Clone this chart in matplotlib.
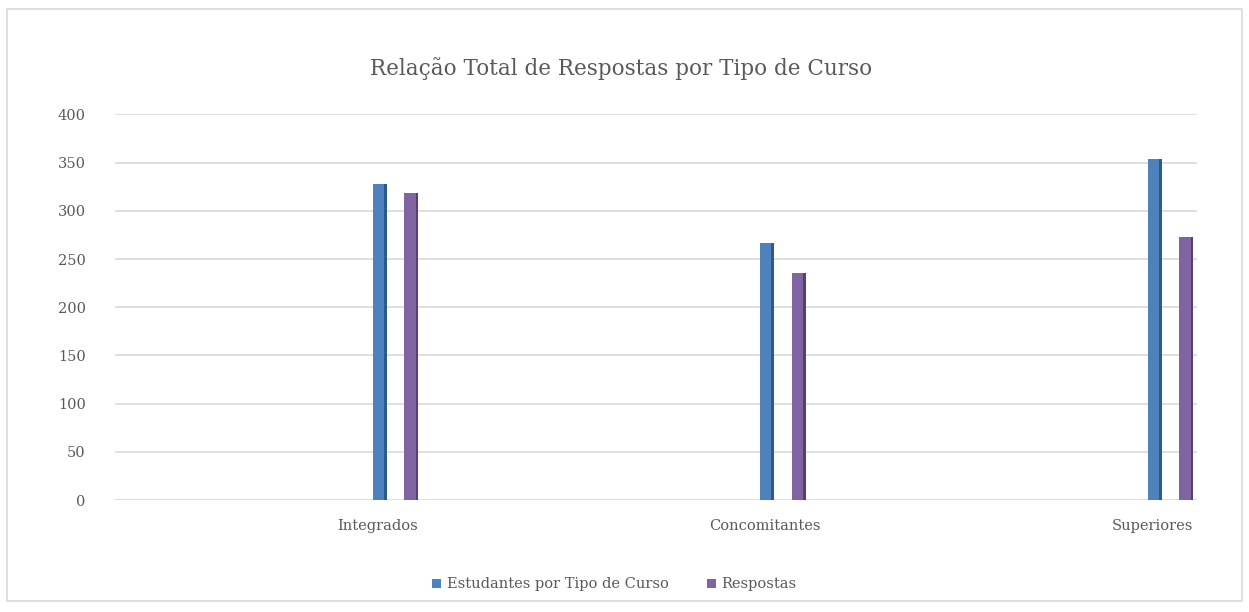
import numpy as np
import matplotlib
matplotlib.use("Agg")
import matplotlib.pyplot as plt
from matplotlib.patches import Rectangle

# dados
cursos = ["Integrados", "Concomitantes", "Superiores"]
estudantes = [328, 267, 354]
respostas = [318, 235, 273]
series = ["Estudantes por Tipo de Curso", "Respostas"]
yticks = [0, 50, 100, 150, 200, 250, 300, 350, 400]

cor_frente = ["#4F81BD", "#8064A2"]
cor_lado = ["#2C5A8C", "#553F7A"]

plt.rcParams["font.family"] = ["DejaVu Serif"]

fig = plt.figure(figsize=(12.49, 6.12), dpi=100)
fig.patches.append(Rectangle((0.006, 0.018), 0.988, 0.968, transform=fig.transFigure,
                             fill=False, edgecolor="#d9d9d9", linewidth=1.2))

ax = fig.add_axes([0.092, 0.183, 0.866, 0.63])

x = np.arange(len(cursos))
w = 0.036
desloc = [0.006, 0.088]

for i, vals in enumerate([estudantes, respostas]):
    pos = x + desloc[i]
    ax.bar(pos, vals, width=w, color=cor_frente[i], label=series[i], zorder=3)
    # lateral mais escura para dar o efeito 3D
    ax.bar(pos + w * 0.4, vals, width=w * 0.2, color=cor_lado[i], zorder=4)

ax.set_xlim(-0.677, 2.114)
ax.set_ylim(0, 400)
ax.set_yticks(yticks)
ax.set_xticks(x)
ax.set_xticklabels(cursos)
ax.yaxis.grid(True, color="#d9d9d9", linewidth=1.2, zorder=0)
ax.set_axisbelow(True)
for s in ax.spines.values():
    s.set_visible(False)
ax.tick_params(axis="both", length=0, colors="#595959", labelsize=10.5)
ax.tick_params(axis="x", pad=14)
ax.tick_params(axis="y", pad=21)

fig.text(0.497, 0.888, "Relação Total de Respostas por Tipo de Curso",
         ha="center", va="center", fontsize=15.5, color="#595959")

leg = fig.legend(loc="center", bbox_to_anchor=(0.492, 0.045), ncol=2, frameon=False,
                 fontsize=10.5, handlelength=0.6, handleheight=0.6, columnspacing=2.6,
                 handletextpad=0.4)
for t in leg.get_texts():
    t.set_color("#595959")

fig.savefig("out.png", dpi=100)
